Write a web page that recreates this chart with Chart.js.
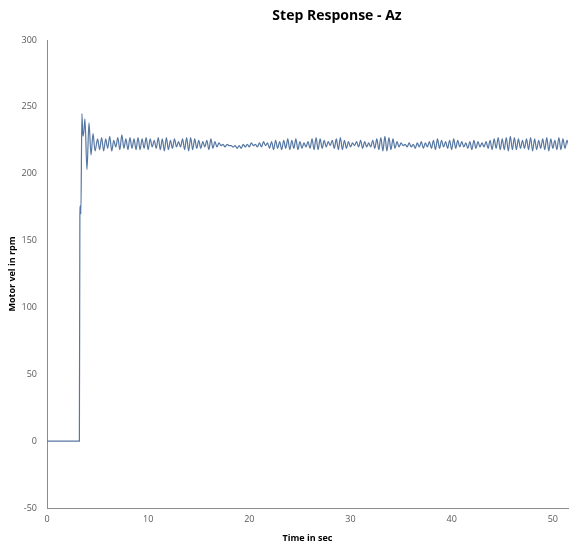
<!DOCTYPE html>
<html>
<head>
<meta charset="utf-8">
<script src="https://cdn.jsdelivr.net/npm/chart.js@4/dist/chart.umd.min.js"></script>
<style>
  html, body { margin: 0; padding: 0; background: #fff; }
  #wrap { width: 571px; height: 554px; }
</style>
</head>
<body>
<div id="wrap"><canvas id="myChart" width="571" height="554"></canvas></div>
<script>
const chartTitle = 'Step Response - Az';
const xTitle = 'Time in sec';
const yTitle = 'Motor vel in rpm';

// start-up part of the response (time in sec, rpm)
const startTimes = [0, 3.2, 3.25, 3.3, 3.35, 3.45, 3.55, 3.65, 3.75, 3.95, 4.15, 4.35, 4.55, 4.75];
const startVel   = [0, 0, 168, 176, 170, 245, 228, 232, 241, 203, 238, 214, 230, 217];

// steady oscillation, read every 0.2 s from t = 5.0
const steadyStart = 5.0;
const steadyStep = 0.2;
const steadyVel = [
  226,218,227,217,226,219,228,217,225,220,
  227,218,229,219,226,218,227,219,226,218,
  227,218,226,219,227,218,226,220,225,219,
  227,218,226,217,227,218,225,219,226,220,
  224,220,226,218,227,217,227,218,226,219,
  225,219,224,220,225,218,226,219,224,220,
  223,221,222,220,222,221,221,220,221,219,
  221,219,222,220,222,220,223,221,222,220,
  223,220,224,221,223,219,224,218,225,219,
  224,218,225,219,226,218,225,219,226,218,
  224,219,223,220,224,219,226,218,227,218,
  226,219,225,220,224,221,225,219,226,218,
  227,218,225,219,224,220,223,221,224,220,
  225,219,224,220,223,220,225,219,226,218,
  227,217,228,217,227,218,226,219,224,220,
  223,221,222,220,223,220,222,219,223,220,
  224,219,223,220,224,219,225,218,226,219,
  225,220,224,219,225,218,226,219,225,220,
  224,220,223,219,224,218,225,219,224,220,
  223,220,224,219,225,218,226,219,227,218,
  226,218,227,217,228,218,227,218,226,219,
  225,219,226,218,227,217,226,218,225,219,
  226,218,227,217,226,219,225,218,227,218,
  226,219,225,220
];

const xTicks = [0, 10, 20, 30, 40, 50];
const yTicks = [-50, 0, 50, 100, 150, 200, 250, 300];

const points = startTimes.map((t, i) => ({ x: t, y: startVel[i] }))
  .concat(steadyVel.map((v, i) => ({ x: +(steadyStart + i * steadyStep).toFixed(2), y: v })));

const titlePlugin = {
  id: 'excelTitle',
  afterDraw(chart) {
    const c = chart.ctx;
    c.save();
    c.fillStyle = '#000';
    c.font = 'bold 14px "Open Sans", sans-serif';
    c.textAlign = 'center';
    c.textBaseline = 'middle';
    c.fillText(chartTitle, 337, 16);
    c.restore();
  }
};

const ctx = document.getElementById('myChart');

new Chart(ctx, {
  type: 'line',
  data: {
    datasets: [{
      data: points,
      borderColor: '#5677a2',
      borderWidth: 1.2,
      pointRadius: 0,
      cubicInterpolationMode: 'monotone',
      fill: false
    }]
  },
  options: {
    responsive: false,
    animation: false,
    layout: { padding: { top: 40, right: 3, left: 0, bottom: 0 } },
    plugins: { legend: { display: false }, tooltip: { enabled: false } },
    scales: {
      x: {
        type: 'linear',
        min: 0,
        max: 51.5,
        afterBuildTicks: s => { s.ticks = xTicks.map(v => ({ value: v })); },
        afterFit: s => { s.height = 46; },
        grid: { drawOnChartArea: false, drawTicks: false },
        border: { color: '#8c8c8c', width: 1 },
        ticks: { padding: 6, color: '#595959', font: { family: 'Open Sans', size: 9 }, maxRotation: 0 },
        title: { display: true, text: xTitle, color: '#000', font: { family: 'Open Sans', size: 9, weight: 'bold' }, padding: { top: 2, bottom: 10 } }
      },
      y: {
        min: -50,
        max: 300,
        afterBuildTicks: s => { s.ticks = yTicks.map(v => ({ value: v })); },
        afterFit: s => { s.width = 47; },
        grid: { drawOnChartArea: false, drawTicks: false },
        border: { color: '#8c8c8c', width: 1 },
        ticks: { padding: 10, color: '#595959', font: { family: 'Open Sans', size: 9 } },
        title: { display: true, text: yTitle, color: '#000', font: { family: 'Open Sans', size: 9, weight: 'bold' }, padding: { top: 7, bottom: 0 } }
      }
    }
  },
  plugins: [titlePlugin]
});
</script>
</body>
</html>
